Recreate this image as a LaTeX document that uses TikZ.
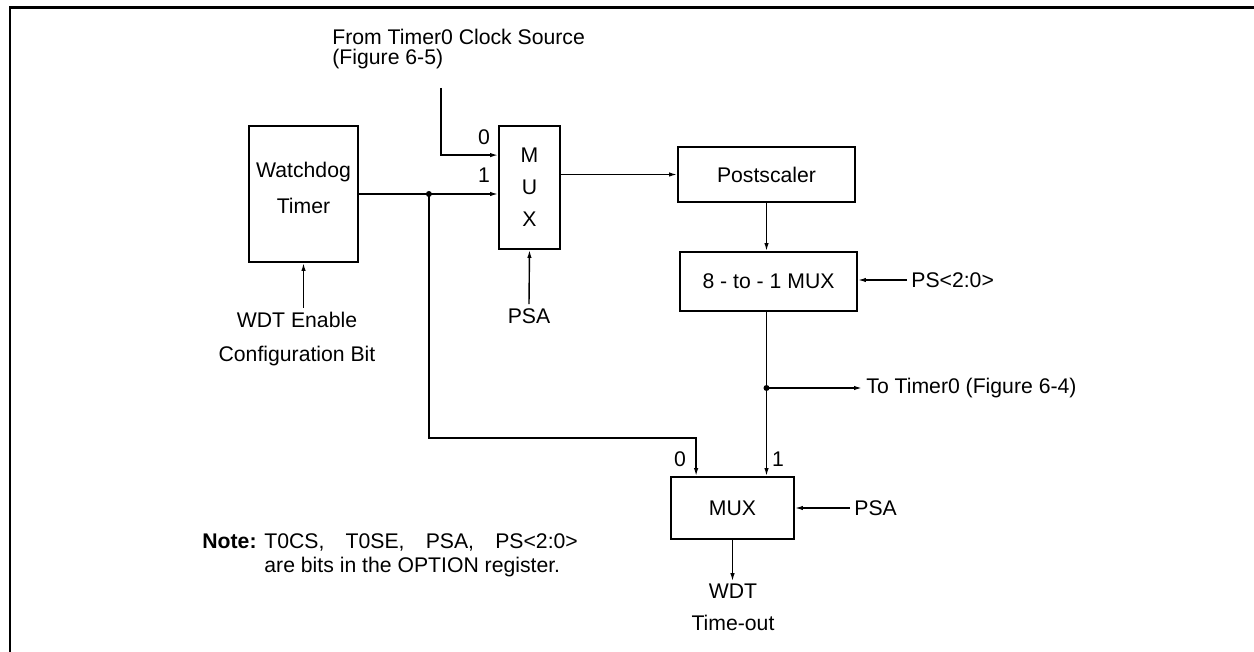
\documentclass[tikz,border=0pt]{standalone}
\usepackage{fontspec}
\setmainfont{Liberation Sans}
\usetikzlibrary{arrows.meta}

\begin{document}
\begin{tikzpicture}[x=0.5pt,y=-0.5pt,
  every node/.style={font=\fontsize{10.6}{12}\selectfont},
  blk/.style={draw,line width=0.9pt,inner sep=0pt,align=center},
  lbl/.style={inner sep=0pt},
  sig/.style={line width=0.7pt,-{Latex[length=4pt,width=2.2pt]}},
  wire/.style={line width=0.5pt}]
  \useasboundingbox (0,0) rectangle (1254,652);
  % frame
  \draw[line width=1.2pt] (10,652) -- (10,7.5) -- (1254,7.5);
  % blocks
  \node[blk,minimum width=54.5pt,minimum height=68pt,text depth=6pt,font=\fontsize{10.6}{18}\selectfont] (wdt) at (303.5,194) {Watchdog\\Timer};
  \node[blk,minimum width=30.5pt,minimum height=61.5pt,font=\fontsize{10.6}{16}\selectfont] (mux1) at (529.5,187.5) {M\\U\\X};
  \node[blk,minimum width=88.5pt,minimum height=27.5pt] (post) at (766.5,174.5) {Postscaler};
  \node[blk,minimum width=88.5pt,minimum height=29.5pt] (sel) at (768.5,281.5) {8 - to - 1 MUX};
  \node[blk,minimum width=61.5pt,minimum height=31pt] (mux2) at (732.5,508) {MUX};
  % texts
  \node[lbl,anchor=west,align=left,font=\fontsize{10.6}{10}\selectfont] (src) at (332,49.5) {From Timer0 Clock Source\\(Figure 6-5)};
  \coordinate (srcend) at (441,88);
  \node[lbl,align=center,font=\fontsize{10.6}{17}\selectfont] (en) at (297,339) {WDT Enable\\Configuration Bit};
  \node[lbl] (psa1) at (529,316) {PSA};
  \node[anchor=west,inner sep=2pt] (ps) at (907,280) {PS<2:0>};
  \node[anchor=west,inner sep=2pt] (tmr) at (862,388) {To Timer0 (Figure 6-4)};
  \node[anchor=west,inner sep=2pt] (psa2) at (850,508) {PSA};
  \node[lbl,align=center,font=\fontsize{10.6}{16}\selectfont] (wdto) at (733,607) {WDT\\Time-out};
  \node[lbl] (in0a) at (484,137) {0};
  \node[lbl] (in1a) at (484,175) {1};
  \node[lbl] (in0b) at (680,459) {0};
  \node[lbl] (in1b) at (778,459) {1};
  \node[lbl,anchor=west,align=left] (note) at (202,555) {\textbf{Note:} T0CS,\quad T0SE,\quad PSA,\quad PS<2:0>\\\phantom{\textbf{Note:} }are bits in the OPTION register.};
  % connectors
  \draw[sig] (srcend) |- ([yshift=-15pt]mux1.north west);
  \path (wdt.east) ++(70,0) coordinate (tap);
  \draw[sig] (wdt.east) -- (tap -| mux1.west);
  \fill (tap) circle (1.5pt);
  \coordinate (mux2in0) at ([xshift=13pt]mux2.north west);
  \draw[sig] (tap) |- ([yshift=19pt]mux2in0) -- (mux2in0);
  \draw[sig] ([yshift=2pt]wdt.south |- en.north) -- (wdt.south);
  \draw[sig] ([yshift=2pt]psa1.north) -- (mux1.south);
  \draw[sig] (post.west -| mux1.east) -- (post.west);
  \draw[sig] (post.south) -- (post.south |- sel.north);
  \draw[sig] (ps.west) -- (ps.west -| sel.east);
  \coordinate (split) at (post.south |- tmr.west);
  \draw[wire] (post.south |- sel.south) -- (split);
  \draw[sig] (split) -- (tmr.west);
  \draw[sig] (split) -- (split |- mux2.north);
  \fill (split) circle (1.5pt);
  \draw[sig] (psa2.west) -- (psa2.west -| mux2.east);
  \draw[sig] (mux2.south) -- ([yshift=1pt]mux2.south |- wdto.north);
\end{tikzpicture}
\end{document}
